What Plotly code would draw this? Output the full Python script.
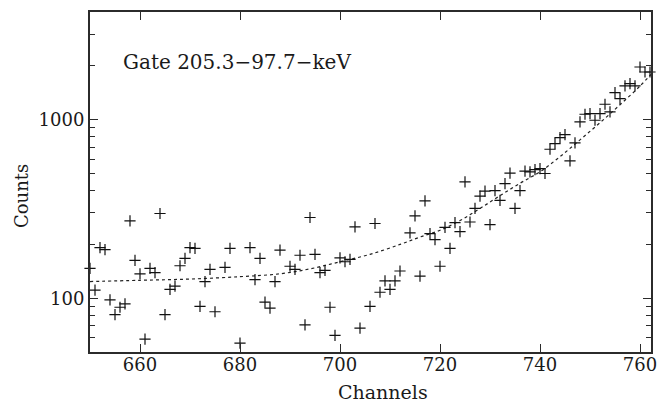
import plotly.graph_objects as go

# measured data points (channel, counts)
channels = [650, 651, 652, 653, 654, 655, 656, 657, 658, 659, 660, 661, 662, 663, 664, 665,
            666, 667, 668, 669, 670, 671, 672, 673, 674, 675, 677, 678, 680, 682, 683, 684,
            685, 686, 687, 688, 690, 691, 692, 693, 694, 695, 696, 697, 698, 699, 700, 701,
            702, 703, 704, 706, 707, 708, 709, 710, 711, 712, 714, 715, 716, 717, 718, 719,
            720, 721, 722, 723, 724, 725, 726, 727, 728, 729, 730, 731, 732, 733, 734, 735,
            736, 737, 738, 739, 740, 741, 742, 743, 744, 745, 746, 747, 748, 749, 750, 751,
            752, 753, 754, 755, 756, 757, 758, 759, 760, 761, 762]
counts = [147, 111, 192, 187, 98, 81, 89, 93, 271, 163, 137, 59, 147, 139, 298, 81,
          112, 117, 152, 167, 192, 190, 90, 124, 145, 84, 149, 190, 56, 192, 127, 167,
          95, 88, 124, 186, 151, 145, 174, 71, 283, 176, 139, 143, 89, 62, 168, 160,
          165, 251, 68, 90, 262, 108, 125, 112, 125, 142, 232, 289, 133, 351, 230, 213,
          151, 249, 190, 265, 236, 448, 267, 318, 373, 398, 258, 400, 353, 438, 502, 318,
          400, 515, 509, 525, 532, 499, 682, 734, 793, 824, 587, 740, 970, 1071, 1080, 991,
          1080, 1218, 1103, 1416, 1311, 1542, 1591, 1542, 1968, 1846, 1846]

# fitted background curve
fit_channels = [650, 660, 670, 680, 688, 694, 700, 706, 712, 716, 720, 724, 728, 732,
                736, 740, 744, 748, 752, 756, 760, 762.2]
fit_counts = [124, 126, 128, 132, 137, 146, 160, 176, 200, 220, 240, 272, 318, 375,
              440, 510, 620, 770, 960, 1210, 1540, 1790]

x_ticks = [660, 680, 700, 720, 740, 760]
y_ticks = [100, 1000]
y_minor = [60, 70, 80, 90, 200, 300, 400, 500, 600, 700, 800, 900, 2000, 3000]

FONT = "DejaVu Serif"
AX = "#2b2b2b"
TXT = "#1a1a1a"

fig = go.Figure()
fig.add_trace(go.Scatter(
    x=fit_channels, y=fit_counts, mode="lines",
    line=dict(color="#222", width=1.2, dash="dot", shape="spline"),
    hoverinfo="skip", showlegend=False))
fig.add_trace(go.Scatter(
    x=channels, y=counts, mode="markers",
    marker=dict(symbol="cross-thin", size=8, line=dict(color="#111", width=1.2)),
    cliponaxis=False, showlegend=False))

fig.add_annotation(text="Gate 205.3\u221297.7\u2212keV", xref="paper", yref="paper",
                   x=(121 - 90) / 561, y=(352 - 62) / 340, xanchor="left", yanchor="middle",
                   showarrow=False, font=dict(family=FONT, size=20, color=TXT))
fig.add_annotation(text="Channels", xref="paper", yref="paper",
                   x=(383 - 90) / 561, y=-(392 - 352) / 340, xanchor="center", yanchor="middle",
                   showarrow=False, font=dict(family=FONT, size=19, color=TXT))
fig.add_annotation(text="Counts", xref="paper", yref="paper", textangle=-90,
                   x=-(90 - 21) / 561, y=(352 - 196) / 340, xanchor="center", yanchor="middle",
                   showarrow=False, font=dict(family=FONT, size=18, color=TXT))

fig.update_layout(
    width=660, height=406,
    margin=dict(l=90, r=9, t=12, b=54),
    paper_bgcolor="white", plot_bgcolor="white",
    font=dict(family=FONT, size=18, color=TXT),
    xaxis=dict(range=[650, 762.2], tickvals=x_ticks, ticks="inside", ticklen=8,
               tickwidth=1.2, tickcolor=AX, showline=True, linecolor=AX, linewidth=2,
               mirror="ticks", showgrid=False, zeroline=False, automargin=False,
               ticklabelstandoff=-5,
               tickfont=dict(family=FONT, size=18)),
    yaxis=dict(type="log", range=[1.699, 3.602], tickvals=y_ticks, ticktext=["100", "1000"],
               ticks="inside", ticklen=8, tickwidth=1.2, tickcolor=AX, showline=True,
               linecolor=AX, linewidth=2, mirror="ticks", showgrid=False, zeroline=False,
               automargin=False,
               minor=dict(tickvals=y_minor, ticks="inside", ticklen=5, tickwidth=1.2,
                          tickcolor=AX, showgrid=False),
               tickfont=dict(family=FONT, size=18)),
)

fig.write_html("out.html")
